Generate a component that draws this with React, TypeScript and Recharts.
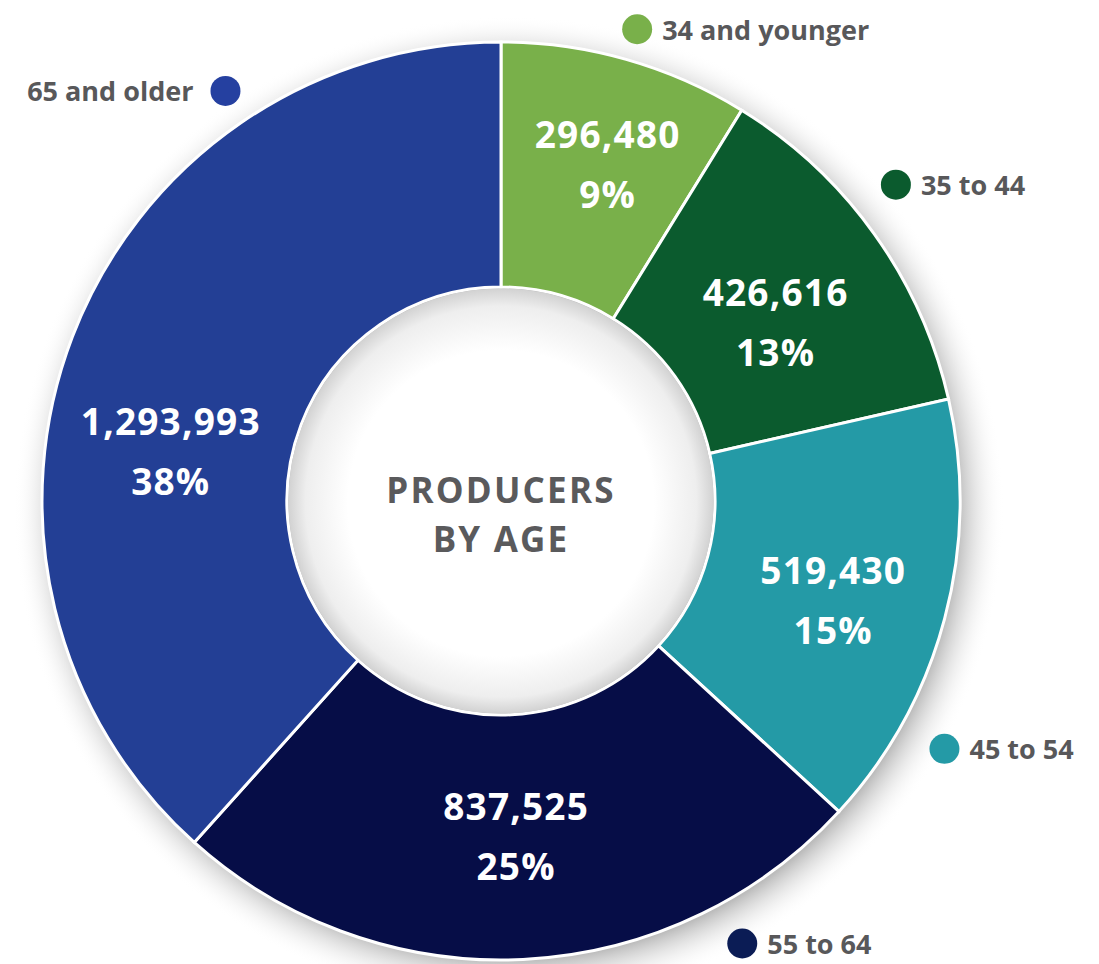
import React from 'react';
import { PieChart, Pie, Cell } from 'recharts';

// ---- data ----
const categories = ['34 and younger', '35 to 44', '45 to 54', '55 to 64', '65 and older'];
const producers = [296480, 426616, 519430, 837525, 1293993];
const centerTitle = ['PRODUCERS', 'BY AGE'];

// ---- styles / layout ----
const sliceColors = ['#79b04a', '#0b5b2e', '#249aa6', '#060d47', '#233f95'];
const dotColors = ['#79b04a', '#0b5b2e', '#249aa6', '#0b1c55', '#2540a0'];
// nudge of each in-slice label from the slice's mid-ring point
const labelShift: [number, number][] = [[15, -14], [1, 16], [7, 12], [-1, -2], [-16, 70]];
// legend dot placement, polar around the pie centre
const legendAngle = [73.9, 38.7, -29.2, -61.4, 123.9];
const legendRadius = [491, 506, 508, 504, 494];
const legendSide = ['right', 'right', 'right', 'right', 'left'];

const W = 1099;
const H = 964;
const CX = 501;
const CY = 501;
const R_OUT = 459;
const R_IN = 214;
const RAD = Math.PI / 180;
const FONT = '"Open Sans", "Noto Sans", sans-serif';

const data = categories.map((name, i) => ({ name, value: producers[i] }));
const single = [{ name: 'one', value: 1 }];

function renderSliceLabel(props: any) {
  const { cx, cy, midAngle, innerRadius, outerRadius, percent, index } = props;
  const rm = (innerRadius + outerRadius) / 2;
  const [dx, dy] = labelShift[index];
  const x = cx + rm * Math.cos(-midAngle * RAD) + dx;
  const y = cy + rm * Math.sin(-midAngle * RAD) + dy;
  const la = legendAngle[index] * RAD;
  const lr = legendRadius[index];
  const lx = cx + lr * Math.cos(-la);
  const ly = cy + lr * Math.sin(-la);
  const left = legendSide[index] === 'left';
  return (
    <g key={`lab-${index}`}>
      <text
        x={x}
        y={y - 30}
        fill="#ffffff"
        textAnchor="middle"
        dominantBaseline="central"
        fontFamily={FONT}
        fontWeight={700}
        fontSize={37}
        letterSpacing={1.2}
      >
        {producers[index].toLocaleString('en-US')}
      </text>
      <text
        x={x}
        y={y + 30}
        fill="#ffffff"
        textAnchor="middle"
        dominantBaseline="central"
        fontFamily={FONT}
        fontWeight={700}
        fontSize={37}
        letterSpacing={1.2}
      >
        {`${Math.round(percent * 100)}%`}
      </text>
      <circle cx={lx} cy={ly} r={15} fill={dotColors[index]} />
      <text
        x={left ? lx - 32 : lx + 25}
        y={ly}
        textAnchor={left ? 'end' : 'start'}
        dominantBaseline="central"
        fill="#58585a"
        fontFamily={FONT}
        fontWeight={700}
        fontSize={27}
      >
        {categories[index]}
      </text>
    </g>
  );
}

function renderCenter(props: any) {
  const { cx, cy } = props;
  return (
    <g key="center">
      {centerTitle.map((t, i) => (
        <text
          key={t}
          x={cx}
          y={cy - 12 + i * 49}
          textAnchor="middle"
          dominantBaseline="central"
          fill="#5a5a5c"
          fontFamily={FONT}
          fontWeight={700}
          fontSize={35}
          letterSpacing={2.2}
        >
          {t}
        </text>
      ))}
    </g>
  );
}

export default function App() {
  return (
    <div style={{ position: 'absolute', left: 0, top: 0, width: W, height: H, background: '#ffffff' }}>
      <PieChart width={W} height={H} margin={{ top: 0, right: 0, bottom: 0, left: 0 }}>
        <defs>
          <radialGradient id="outerShadow" cx="50%" cy="50%" r="50%">
            <stop offset="0%" stopColor="#b5b5b5" stopOpacity={0.9} />
            <stop offset={`${((R_OUT - 10) / (R_OUT + 36)) * 100}%`} stopColor="#b5b5b5" stopOpacity={0.9} />
            <stop offset="100%" stopColor="#ffffff" stopOpacity={0} />
          </radialGradient>
          <radialGradient id="innerGrad" cx="50%" cy="50%" r="50%" fx="50%" fy="52%">
            <stop offset="0%" stopColor="#ffffff" />
            <stop offset="72%" stopColor="#ffffff" />
            <stop offset="92%" stopColor="#eeeeee" />
            <stop offset="100%" stopColor="#d2d2d2" />
          </radialGradient>
        </defs>
        <Pie
          data={single}
          dataKey="value"
          cx={CX + 8}
          cy={CY + 10}
          innerRadius={0}
          outerRadius={R_OUT + 36}
          startAngle={90}
          endAngle={-270}
          stroke="none"
          isAnimationActive={false}
          fill="url(#outerShadow)"
          label={false}
          labelLine={false}
        />
        <Pie
          data={data}
          dataKey="value"
          nameKey="name"
          cx={CX}
          cy={CY}
          innerRadius={R_IN}
          outerRadius={R_OUT}
          startAngle={90}
          endAngle={-270}
          stroke="#ffffff"
          strokeWidth={3}
          isAnimationActive={false}
          label={renderSliceLabel}
          labelLine={false}
        >
          {data.map((d, i) => (
            <Cell key={d.name} fill={sliceColors[i]} />
          ))}
        </Pie>
        <Pie
          data={single}
          dataKey="value"
          cx={CX}
          cy={CY}
          innerRadius={0}
          outerRadius={R_IN - 1.5}
          startAngle={90}
          endAngle={-270}
          stroke="none"
          isAnimationActive={false}
          fill="url(#innerGrad)"
          label={renderCenter}
          labelLine={false}
        />
      </PieChart>
    </div>
  );
}
